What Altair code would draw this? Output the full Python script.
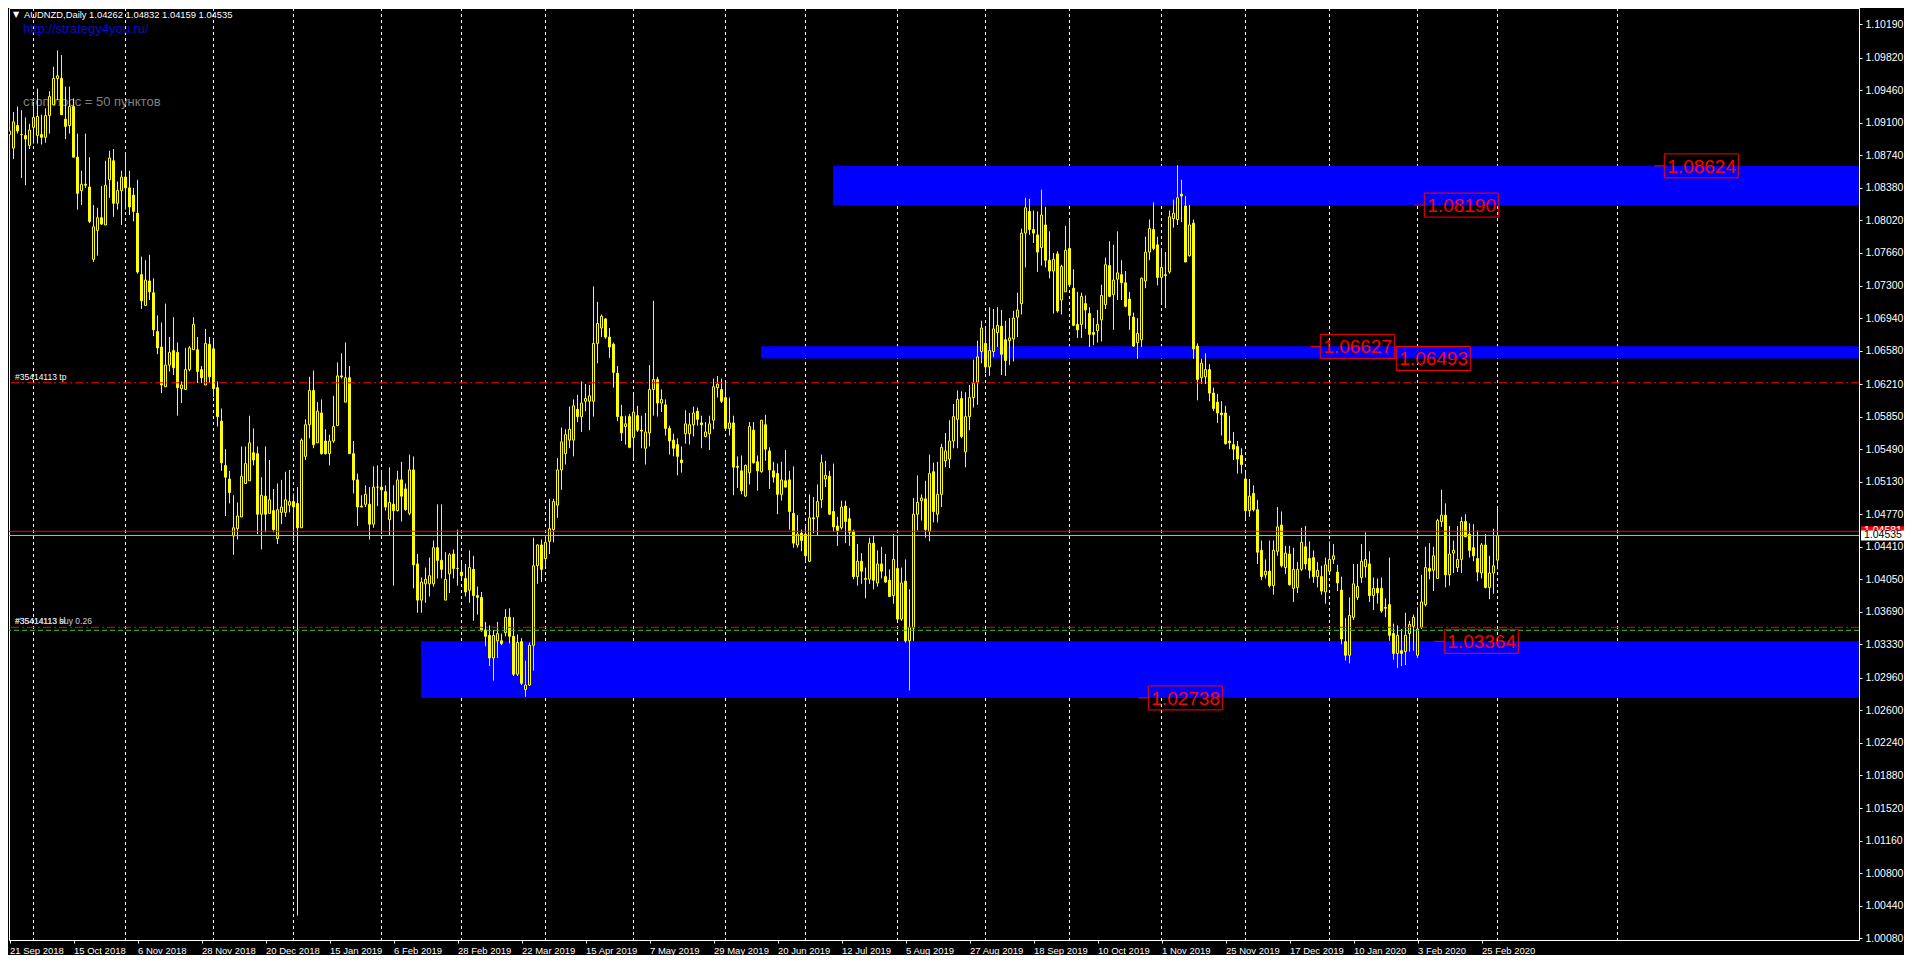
import altair as alt
import pandas as pd

# ---------------- data ----------------
header = "AUDNZD,Daily  1.04262 1.04832 1.04159 1.04535"
site = "http://strategy4you.ru/"
note = "стоп лосс = 50 пунктов"
order_id = "#35414113"

opens = [
    1.0897, 1.0882, 1.0907, 1.0897, 1.0896, 1.0885, 1.0905, 1.0896, 1.0897, 1.0894,
    1.0918, 1.0930, 1.0959, 1.0959, 1.0914, 1.0907, 1.0928, 1.0872, 1.0835, 1.0842,
    1.0839, 1.0759, 1.0791, 1.0805, 1.0797, 1.0847, 1.0868, 1.0821, 1.0835, 1.0850,
    1.0838, 1.0830, 1.0810, 1.0742, 1.0708, 1.0735, 1.0722, 1.0679, 1.0662, 1.0618,
    1.0642, 1.0658, 1.0656, 1.0616, 1.0615, 1.0637, 1.0659, 1.0659, 1.0637, 1.0620,
    1.0665, 1.0660, 1.0617, 1.0580, 1.0531, 1.0516, 1.0453, 1.0461, 1.0474, 1.0511,
    1.0514, 1.0545, 1.0544, 1.0477, 1.0497, 1.0478, 1.0481, 1.0450, 1.0479, 1.0479,
    1.0487, 1.0491, 1.0489, 1.0462, 1.0541, 1.0576, 1.0614, 1.0556, 1.0589, 1.0558,
    1.0544, 1.0558, 1.0575, 1.0630, 1.0601, 1.0628, 1.0544, 1.0515, 1.0486, 1.0488,
    1.0488, 1.0466, 1.0507, 1.0507, 1.0502, 1.0471, 1.0488, 1.0481, 1.0515, 1.0505,
    1.0478, 1.0526, 1.0422, 1.0382, 1.0400, 1.0400, 1.0400, 1.0440, 1.0426, 1.0382,
    1.0411, 1.0433, 1.0417, 1.0413, 1.0406, 1.0393, 1.0416, 1.0387, 1.0385, 1.0349,
    1.0343, 1.0318, 1.0337, 1.0337, 1.0346, 1.0363, 1.0342, 1.0300, 1.0336, 1.0283,
    1.0288, 1.0332, 1.0420, 1.0443, 1.0428, 1.0447, 1.0460, 1.0487, 1.0526, 1.0544,
    1.0559, 1.0559, 1.0593, 1.0585, 1.0602, 1.0602, 1.0602, 1.0666, 1.0683, 1.0693,
    1.0673, 1.0665, 1.0633, 1.0585, 1.0574, 1.0585, 1.0562, 1.0586, 1.0570, 1.0550,
    1.0567, 1.0615, 1.0626, 1.0600, 1.0598, 1.0572, 1.0559, 1.0554, 1.0537, 1.0566,
    1.0566, 1.0576, 1.0591, 1.0578, 1.0563, 1.0566, 1.0581, 1.0617, 1.0615, 1.0606,
    1.0572, 1.0578, 1.0530, 1.0525, 1.0497,
    1.0523, 1.0570, 1.0535, 1.0524, 1.0576,
    1.0547, 1.0525, 1.0522, 1.0499, 1.0514, 1.0515, 1.0478, 1.0443, 1.0456, 1.0455,
    1.0425, 1.0473, 1.0474, 1.0493, 1.0516, 1.0519, 1.0480, 1.0464, 1.0462, 1.0486,
    1.0472, 1.0458, 1.0408, 1.0425, 1.0406, 1.0405, 1.0445, 1.0401, 1.0422, 1.0408,
    1.0404, 1.0387, 1.0417, 1.0361, 1.0403, 1.0337, 1.0351, 1.0477, 1.0492, 1.0494,
    1.0458, 1.0524, 1.0477, 1.0499, 1.0536, 1.0538, 1.0558, 1.0582, 1.0605, 1.0546,
    1.0585, 1.0606, 1.0623, 1.0657, 1.0666, 1.0640, 1.0657, 1.0678, 1.0685, 1.0670,
    1.0669, 1.0671, 1.0695, 1.0710, 1.0788, 1.0812, 1.0792, 1.0786, 1.0772, 1.0797,
    1.0758, 1.0746, 1.0765, 1.0714, 1.0723, 1.0771, 1.0727, 1.0687, 1.0687, 1.0710,
    1.0699, 1.0678, 1.0680, 1.0692, 1.0709, 1.0752, 1.0720, 1.0737, 1.0742,
    1.0733, 1.0715, 1.0695, 1.0667, 1.0670, 1.0735, 1.0767, 1.0792, 1.0775, 1.0739, 1.0742,
    1.0745, 1.0804, 1.0803, 1.0831, 1.0818, 1.0763, 1.0799, 1.0663, 1.0628, 1.0629,
    1.0637, 1.0611, 1.0601, 1.0589, 1.0589, 1.0558, 1.0554, 1.0552, 1.0542, 1.0516,
    1.0481, 1.0500, 1.0482, 1.0437, 1.0410, 1.0414, 1.0398, 1.0436, 1.0465, 1.0418,
    1.0433, 1.0395, 1.0396, 1.0416, 1.0441, 1.0428, 1.0429, 1.0408, 1.0408, 1.0391,
    1.0414, 1.0427, 1.0413, 1.0393, 1.0336, 1.0321, 1.0363, 1.0385, 1.0407, 1.0419,
    1.0422, 1.0387, 1.0395, 1.0395, 1.0374, 1.0377, 1.0345, 1.0323, 1.0326, 1.0325,
    1.0345, 1.0353, 1.0321, 1.0352, 1.0377, 1.0417, 1.0415, 1.0406, 1.0469, 1.0476,
    1.0410, 1.0434, 1.0418, 1.0427, 1.0469, 1.0455, 1.0440, 1.0428, 1.0412, 1.0443,
    1.0396, 1.0412, 1.04262,
]

highs = [
    1.0913, 1.0922, 1.0928, 1.0924, 1.0916, 1.0909, 1.0933, 1.0948, 1.0919, 1.0926,
    1.0945, 1.0972, 1.0990, 1.0985, 1.0950, 1.0950, 1.0937, 1.0898, 1.0857, 1.0898,
    1.0872, 1.0819, 1.0816, 1.0840, 1.0868, 1.0879, 1.0881, 1.0845, 1.0857, 1.0877,
    1.0857, 1.0838, 1.0847, 1.0762, 1.0758, 1.0764, 1.0738, 1.0697, 1.0689, 1.0710,
    1.0673, 1.0695, 1.0667, 1.0624, 1.0661, 1.0663, 1.0695, 1.0673, 1.0641, 1.0682,
    1.0673, 1.0671, 1.0624, 1.0594, 1.0549, 1.0525, 1.0498, 1.0490, 1.0552, 1.0552,
    1.0586, 1.0572, 1.0552, 1.0518, 1.0552, 1.0537, 1.0505, 1.0511, 1.0515, 1.0524,
    1.0526, 1.0500, 1.0507, 1.0561, 1.0582, 1.0629, 1.0636, 1.0601, 1.0604, 1.0571,
    1.0565, 1.0608, 1.0645, 1.0655, 1.0667, 1.0641, 1.0558, 1.0522, 1.0498, 1.0509,
    1.0507, 1.0530, 1.0531, 1.0526, 1.0509, 1.0529, 1.0509, 1.0525, 1.0535, 1.0511,
    1.0543, 1.0541, 1.0433, 1.0407, 1.0418, 1.0429, 1.0448, 1.0488, 1.0488, 1.0435,
    1.0434, 1.0438, 1.0460, 1.0424, 1.0422, 1.0437, 1.0431, 1.0397, 1.0391, 1.0358,
    1.0354, 1.0349, 1.0358, 1.0345, 1.0372, 1.0373, 1.0363, 1.0344, 1.0340, 1.0315,
    1.0335, 1.0451, 1.0444, 1.0449, 1.0453, 1.0494, 1.0494, 1.0539, 1.0573, 1.0571,
    1.0596, 1.0604, 1.0609, 1.0624, 1.0621, 1.0620, 1.0729, 1.0712, 1.0698, 1.0694,
    1.0683, 1.0667, 1.0641, 1.0598, 1.0586, 1.0588, 1.0609, 1.0597, 1.0586, 1.0589,
    1.0642, 1.0713, 1.0629, 1.0615, 1.0604, 1.0575, 1.0566, 1.0561, 1.0552, 1.0592,
    1.0589, 1.0596, 1.0595, 1.0586, 1.0579, 1.0586, 1.0627, 1.0630, 1.0627, 1.0622,
    1.0606, 1.0586, 1.0541, 1.0542, 1.0532,
    1.0579, 1.0579, 1.0542, 1.0581, 1.0587,
    1.0551, 1.0535, 1.0533, 1.0535, 1.0548, 1.0525, 1.0530, 1.0476, 1.0460, 1.0466,
    1.0499, 1.0496, 1.0510, 1.0543, 1.0536, 1.0525, 1.0533, 1.0474, 1.0492, 1.0492,
    1.0484, 1.0460, 1.0444, 1.0434, 1.0418, 1.0451, 1.0453, 1.0437, 1.0441, 1.0433,
    1.0416, 1.0455, 1.0453, 1.0418, 1.0427, 1.0394, 1.0495, 1.0520, 1.0499, 1.0514,
    1.0543, 1.0534, 1.0535, 1.0555, 1.0567, 1.0581, 1.0599, 1.0614, 1.0613, 1.0612,
    1.0620, 1.0648, 1.0669, 1.0691, 1.0683, 1.0706, 1.0704, 1.0706, 1.0703, 1.0691,
    1.0694, 1.0702, 1.0722, 1.0793, 1.0827, 1.0826, 1.0813, 1.0812, 1.0836, 1.0817,
    1.0790, 1.0766, 1.0768, 1.0753, 1.0796, 1.0804, 1.0748, 1.0723, 1.0722, 1.0719,
    1.0706, 1.0694, 1.0703, 1.0731, 1.0761, 1.0779, 1.0775, 1.0790, 1.0758,
    1.0746, 1.0723, 1.0700, 1.0694, 1.0739, 1.0784, 1.0803, 1.0822, 1.0784, 1.0771, 1.0767,
    1.0813, 1.0825, 1.0863, 1.0847, 1.0829, 1.0819, 1.0803, 1.0666, 1.0649, 1.0655,
    1.0643, 1.0617, 1.0610, 1.0602, 1.0597, 1.0586, 1.0568, 1.0558, 1.0550, 1.0524,
    1.0516, 1.0509, 1.0493, 1.0448, 1.0427, 1.0448, 1.0448, 1.0485, 1.0480, 1.0442,
    1.0442, 1.0440, 1.0424, 1.0462, 1.0464, 1.0447, 1.0437, 1.0424, 1.0420, 1.0429,
    1.0447, 1.0444, 1.0421, 1.0408, 1.0362, 1.0385, 1.0422, 1.0422, 1.0444, 1.0457,
    1.0436, 1.0407, 1.0406, 1.0407, 1.0384, 1.0429, 1.0356, 1.0354, 1.0350, 1.0368,
    1.0359, 1.0366, 1.0374, 1.0410, 1.0441, 1.0445, 1.0441, 1.0472, 1.0504, 1.0489,
    1.0464, 1.0448, 1.0464, 1.0474, 1.0477, 1.0467, 1.0466, 1.0459, 1.0445, 1.0455,
    1.0431, 1.0461, 1.04832,
]

lows = [
    1.0881, 1.0870, 1.0898, 1.0849, 1.0841, 1.0881, 1.0887, 1.0887, 1.0886, 1.0888,
    1.0898, 1.0930, 1.0935, 1.0919, 1.0892, 1.0898, 1.0872, 1.0814, 1.0819, 1.0838,
    1.0799, 1.0756, 1.0763, 1.0797, 1.0797, 1.0827, 1.0806, 1.0814, 1.0797, 1.0814,
    1.0808, 1.0801, 1.0743, 1.0704, 1.0708, 1.0714, 1.0674, 1.0654, 1.0611, 1.0618,
    1.0635, 1.0631, 1.0586, 1.0600, 1.0615, 1.0635, 1.0659, 1.0622, 1.0622, 1.0620,
    1.0622, 1.0607, 1.0574, 1.0525, 1.0475, 1.0489, 1.0432, 1.0449, 1.0474, 1.0511,
    1.0514, 1.0531, 1.0455, 1.0438, 1.0457, 1.0478, 1.0457, 1.0444, 1.0466, 1.0474,
    1.0479, 1.0447, 1.0033, 1.0462, 1.0537, 1.0561, 1.0550, 1.0556, 1.0543, 1.0543,
    1.0531, 1.0556, 1.0575, 1.0627, 1.0601, 1.0544, 1.0500, 1.0464, 1.0485, 1.0485,
    1.0449, 1.0462, 1.0486, 1.0455, 1.0481, 1.0454, 1.0398, 1.0480, 1.0469, 1.0481,
    1.0476, 1.0395, 1.0368, 1.0368, 1.0379, 1.0386, 1.0397, 1.0406, 1.0406, 1.0382,
    1.0390, 1.0406, 1.0398, 1.0406, 1.0386, 1.0379, 1.0359, 1.0366, 1.0347, 1.0331,
    1.0309, 1.0293, 1.0318, 1.0332, 1.0342, 1.0334, 1.0298, 1.0298, 1.0288, 1.0275,
    1.0287, 1.0304, 1.0400, 1.0402, 1.0420, 1.0433, 1.0446, 1.0473, 1.0504, 1.0532,
    1.0550, 1.0541, 1.0579, 1.0568, 1.0591, 1.0570, 1.0585, 1.0644, 1.0673, 1.0671,
    1.0650, 1.0617, 1.0580, 1.0558, 1.0554, 1.0550, 1.0539, 1.0568, 1.0550, 1.0532,
    1.0552, 1.0586, 1.0585, 1.0590, 1.0564, 1.0543, 1.0541, 1.0520, 1.0523, 1.0555,
    1.0554, 1.0563, 1.0575, 1.0550, 1.0562, 1.0548, 1.0571, 1.0606, 1.0600, 1.0570,
    1.0564, 1.0498, 1.0506, 1.0499, 1.0496,
    1.0510, 1.0533, 1.0503, 1.0523, 1.0536,
    1.0505, 1.0512, 1.0477, 1.0492, 1.0507, 1.0460, 1.0440, 1.0440, 1.0436, 1.0424,
    1.0424, 1.0456, 1.0453, 1.0484, 1.0507, 1.0476, 1.0458, 1.0442, 1.0460, 1.0445,
    1.0442, 1.0405, 1.0398, 1.0400, 1.0384, 1.0400, 1.0394, 1.0397, 1.0406, 1.0401,
    1.0386, 1.0378, 1.0359, 1.0359, 1.0335, 1.0282, 1.0337, 1.0459, 1.0470, 1.0451,
    1.0447, 1.0468, 1.0468, 1.0485, 1.0529, 1.0528, 1.0550, 1.0550, 1.0561, 1.0529,
    1.0570, 1.0595, 1.0598, 1.0644, 1.0633, 1.0630, 1.0651, 1.0662, 1.0631, 1.0630,
    1.0642, 1.0646, 1.0673, 1.0698, 1.0750, 1.0786, 1.0777, 1.0745, 1.0752, 1.0750,
    1.0738, 1.0699, 1.0700, 1.0698, 1.0723, 1.0731, 1.0685, 1.0672, 1.0672, 1.0682,
    1.0662, 1.0664, 1.0667, 1.0668, 1.0704, 1.0717, 1.0681, 1.0714, 1.0714,
    1.0706, 1.0681, 1.0662, 1.0649, 1.0662, 1.0727, 1.0758, 1.0769, 1.0730, 1.0711, 1.0705,
    1.0743, 1.0794, 1.0797, 1.0800, 1.0756, 1.0762, 1.0649, 1.0603, 1.0621, 1.0621,
    1.0602, 1.0591, 1.0578, 1.0564, 1.0554, 1.0549, 1.0537, 1.0522, 1.0522, 1.0470,
    1.0474, 1.0480, 1.0422, 1.0404, 1.0406, 1.0396, 1.0388, 1.0431, 1.0418, 1.0411,
    1.0398, 1.0380, 1.0390, 1.0414, 1.0416, 1.0406, 1.0401, 1.0396, 1.0388, 1.0378,
    1.0412, 1.0422, 1.0392, 1.0333, 1.0315, 1.0312, 1.0360, 1.0382, 1.0401, 1.0407,
    1.0380, 1.0371, 1.0378, 1.0368, 1.0363, 1.0337, 1.0316, 1.0307, 1.0309, 1.0310,
    1.0325, 1.0326, 1.0318, 1.0350, 1.0375, 1.0405, 1.0392, 1.0406, 1.0463, 1.0396,
    1.0398, 1.0412, 1.0413, 1.0412, 1.0452, 1.0429, 1.0425, 1.0403, 1.0406, 1.0395,
    1.0383, 1.0389, 1.04159,
]

closes = [
    1.0901, 1.0911, 1.0901, 1.0897, 1.0892, 1.0902, 1.0916, 1.0917, 1.0894, 1.0918,
    1.0939, 1.0959, 1.0962, 1.0919, 1.0906, 1.0928, 1.0872, 1.0832, 1.0842, 1.0841,
    1.0801, 1.0795, 1.0805, 1.0798, 1.0841, 1.0871, 1.0821, 1.0835, 1.0850, 1.0838,
    1.0817, 1.0812, 1.0745, 1.0713, 1.0736, 1.0723, 1.0681, 1.0661, 1.0620, 1.0642,
    1.0656, 1.0639, 1.0617, 1.0620, 1.0637, 1.0661, 1.0687, 1.0635, 1.0628, 1.0666,
    1.0629, 1.0616, 1.0585, 1.0534, 1.0518, 1.0501, 1.0462, 1.0475, 1.0519, 1.0533,
    1.0556, 1.0537, 1.0477, 1.0498, 1.0477, 1.0493, 1.0460, 1.0482, 1.0485, 1.0493,
    1.0491, 1.0485, 1.0462, 1.0559, 1.0576, 1.0614, 1.0554, 1.0591, 1.0544, 1.0544,
    1.0558, 1.0574, 1.0630, 1.0629, 1.0628, 1.0544, 1.0515, 1.0485, 1.0485, 1.0499,
    1.0466, 1.0507, 1.0507, 1.0504, 1.0485, 1.0490, 1.0481, 1.0515, 1.0497, 1.0482,
    1.0526, 1.0421, 1.0382, 1.0402, 1.0405, 1.0409, 1.0440, 1.0426, 1.0416, 1.0405,
    1.0432, 1.0417, 1.0417, 1.0409, 1.0391, 1.0418, 1.0387, 1.0385, 1.0349, 1.0342,
    1.0318, 1.0343, 1.0345, 1.0334, 1.0363, 1.0342, 1.0300, 1.0335, 1.0290, 1.0288,
    1.0332, 1.0420, 1.0443, 1.0416, 1.0446, 1.0461, 1.0491, 1.0526, 1.0557, 1.0565,
    1.0571, 1.0597, 1.0585, 1.0600, 1.0605, 1.0608, 1.0666, 1.0688, 1.0696, 1.0673,
    1.0662, 1.0634, 1.0585, 1.0567, 1.0577, 1.0551, 1.0590, 1.0570, 1.0569, 1.0568,
    1.0615, 1.0626, 1.0600, 1.0604, 1.0572, 1.0558, 1.0550, 1.0541, 1.0534, 1.0577,
    1.0576, 1.0589, 1.0582, 1.0576, 1.0568, 1.0577, 1.0618, 1.0621, 1.0602, 1.0572,
    1.0578, 1.0529, 1.0529, 1.0503, 1.0531,
    1.0574, 1.0534, 1.0525, 1.0581, 1.0549,
    1.0526, 1.0518, 1.0499, 1.0515, 1.0507, 1.0480, 1.0445, 1.0455, 1.0448, 1.0431,
    1.0473, 1.0472, 1.0491, 1.0534, 1.0520, 1.0477, 1.0463, 1.0459, 1.0485, 1.0469,
    1.0457, 1.0408, 1.0425, 1.0414, 1.0405, 1.0445, 1.0404, 1.0422, 1.0414, 1.0402,
    1.0386, 1.0427, 1.0361, 1.0401, 1.0337, 1.0352, 1.0477, 1.0490, 1.0495, 1.0460,
    1.0522, 1.0480, 1.0499, 1.0551, 1.0547, 1.0558, 1.0585, 1.0604, 1.0563, 1.0585,
    1.0606, 1.0622, 1.0651, 1.0683, 1.0640, 1.0658, 1.0682, 1.0686, 1.0654, 1.0647,
    1.0672, 1.0694, 1.0703, 1.0788, 1.0816, 1.0792, 1.0788, 1.0767, 1.0808, 1.0758,
    1.0746, 1.0759, 1.0702, 1.0751, 1.0769, 1.0731, 1.0686, 1.0681, 1.0718, 1.0703,
    1.0676, 1.0676, 1.0687, 1.0719, 1.0753, 1.0718, 1.0736, 1.0744, 1.0733,
    1.0707, 1.0697, 1.0663, 1.0677, 1.0738, 1.0767, 1.0793, 1.0771, 1.0739, 1.0750, 1.0741,
    1.0806, 1.0810, 1.0827, 1.0829, 1.0756, 1.0797, 1.0660, 1.0626, 1.0644, 1.0637,
    1.0611, 1.0594, 1.0589, 1.0587, 1.0555, 1.0556, 1.0549, 1.0538, 1.0532, 1.0481,
    1.0497, 1.0482, 1.0435, 1.0408, 1.0414, 1.0398, 1.0437, 1.0463, 1.0420, 1.0434,
    1.0399, 1.0416, 1.0416, 1.0446, 1.0422, 1.0415, 1.0408, 1.0415, 1.0392, 1.0421,
    1.0427, 1.0431, 1.0401, 1.0339, 1.0321, 1.0365, 1.0400, 1.0397, 1.0425, 1.0427,
    1.0387, 1.0395, 1.0390, 1.0370, 1.0373, 1.0343, 1.0323, 1.0343, 1.0323, 1.0343,
    1.0355, 1.0363, 1.0350, 1.0380, 1.0418, 1.0414, 1.0431, 1.0470, 1.0476, 1.0410,
    1.0433, 1.0437, 1.0427, 1.0469, 1.0452, 1.0437, 1.0431, 1.0413, 1.0443, 1.0396,
    1.0412, 1.0420, 1.04535,
]

date_labels = ["21 Sep 2018", "15 Oct 2018", "6 Nov 2018", "28 Nov 2018", "20 Dec 2018",
               "15 Jan 2019", "6 Feb 2019", "28 Feb 2019", "22 Mar 2019", "15 Apr 2019",
               "7 May 2019", "29 May 2019", "20 Jun 2019", "12 Jul 2019", "5 Aug 2019",
               "27 Aug 2019", "18 Sep 2019", "10 Oct 2019", "1 Nov 2019", "25 Nov 2019",
               "17 Dec 2019", "10 Jan 2020", "3 Feb 2020", "25 Feb 2020"]
label_every = 16                      # bars between time labels
month_bars = [6, 29, 51, 71, 93, 113, 134, 156, 179, 199, 222, 244, 265, 288, 309,
              330, 352, 372, 402]      # bar index of each vertical grid line

price_ticks = [1.10190, 1.09820, 1.09460, 1.09100, 1.08740, 1.08380, 1.08020, 1.07660,
               1.07300, 1.06940, 1.06580, 1.06210, 1.05850, 1.05490, 1.05130, 1.04770,
               1.04410, 1.04050, 1.03690, 1.03330, 1.02960, 1.02600, 1.02240, 1.01880,
               1.01520, 1.01160, 1.00800, 1.00440, 1.00080]

zone_top = [1.08624, 1.06627, 1.03364]
zone_bottom = [1.08190, 1.06493, 1.02738]
zone_start_bar = [205.9, 187.9, 102.9]
zone_end_bar = [None, None, 463.9]     # None: runs past the right edge

level_prices = [1.08624, 1.08190, 1.06627, 1.06493, 1.03364, 1.02738]
level_bars = [411.2, 351.2, 325.2, 344.2, 356.2, 282.2]

tp_price = 1.06224
sl_price = 1.03519
open_price = 1.03486
ask_price = 1.04581
bid_price = 1.04535

# ---------------- chart ----------------
XMIN, XMAX = -0.125, 462.375
YMIN, YMAX = 1.0006, 1.1037
YELLOW = "#FFFF00"
RED = "#FF0000"
WHITE = "#FFFFFF"

df = pd.DataFrame({"i": list(range(len(closes))), "o": opens, "h": highs,
                   "l": lows, "c": closes})
df["x0"] = df["i"] - 0.25
df["x1"] = df["i"] + 0.25

xs = alt.Scale(domain=[XMIN, XMAX], nice=False, zero=False)
ys = alt.Scale(domain=[YMIN, YMAX], nice=False, zero=False)

label_js = "[" + ",".join("'%s'" % s for s in date_labels) + "]"
x_axis = alt.Axis(values=[k * label_every for k in range(len(date_labels))],
                  labelExpr=label_js + "[round(datum.value/%d)]" % label_every,
                  orient="bottom", grid=False, domain=False, ticks=True, tickSize=3,
                  tickColor=WHITE, labelColor=WHITE, labelFontSize=9.5,
                  labelFont="Liberation Sans", labelAlign="left", labelPadding=2,
                  labelOverlap=False, labelBound=False, labelFlush=False, title=None)
y_axis = alt.Axis(values=price_ticks, format=".5f", orient="right", grid=False,
                  domain=True, domainColor=WHITE, ticks=True, tickSize=3,
                  tickColor=WHITE, labelColor=WHITE, labelFontSize=10.5,
                  labelFont="Liberation Sans", labelPadding=3, labelOverlap=False,
                  labelBound=False, labelFlush=False, title=None)


def X(f):
    return alt.X(f, scale=xs, axis=x_axis, title=None)


def Y(f):
    return alt.Y(f, scale=ys, axis=y_axis, title=None)


grid = alt.Chart(pd.DataFrame({"m": month_bars})).mark_rule(
    color=WHITE, strokeDash=[3, 3], strokeWidth=1, clip=True).encode(x=X("m:Q"))

zdf = pd.DataFrame({"x0": zone_start_bar,
                    "x1": [XMAX if e is None else e for e in zone_end_bar],
                    "top": zone_top, "bot": zone_bottom})
zones = alt.Chart(zdf).mark_rect(color="#0000FF", clip=True).encode(
    x=X("x0:Q"), x2="x1:Q", y=Y("top:Q"), y2="bot:Q")

note_txt = alt.Chart(pd.DataFrame({"t": [note]})).mark_text(
    align="left", baseline="middle", color="#808080", fontSize=13,
    font="Liberation Sans").encode(x=alt.value(14), y=alt.value(94), text="t:N")

wicks = alt.Chart(df).mark_rule(color=YELLOW, strokeWidth=1, clip=True).encode(
    x=X("i:Q"), y=Y("l:Q"), y2="h:Q")
bodies = alt.Chart(df).mark_rect(stroke=YELLOW, strokeWidth=1, clip=True).encode(
    x=X("x0:Q"), x2="x1:Q", y=Y("o:Q"), y2="c:Q",
    fill=alt.condition("datum.c < datum.o", alt.value(YELLOW), alt.value("#000000")))

red_dd = alt.Chart(pd.DataFrame({"p": [tp_price, sl_price]})).mark_rule(
    color=RED, strokeDash=[8, 3, 2, 3], strokeWidth=1).encode(y=Y("p:Q"))
green_d = alt.Chart(pd.DataFrame({"p": [open_price]})).mark_rule(
    color="#32CD32", strokeDash=[5, 3], strokeWidth=1).encode(y=Y("p:Q"))
ask_line = alt.Chart(pd.DataFrame({"p": [ask_price]})).mark_rule(
    color=RED, strokeWidth=1).encode(y=Y("p:Q"))
bid_line = alt.Chart(pd.DataFrame({"p": [bid_price]})).mark_rule(
    color="#B4B4B4", strokeWidth=1).encode(y=Y("p:Q"))

odf = pd.DataFrame({"p": [tp_price, sl_price, sl_price],
                    "t": [order_id + " tp", order_id + " sl", order_id + " buy 0.26"],
                    "col": [WHITE, WHITE, "#C8D2E6"]})
order_txt = alt.Chart(odf).mark_text(
    align="left", baseline="bottom", dy=-1, fontSize=8.5,
    font="Liberation Sans").encode(x=alt.value(6), y=Y("p:Q"), text="t:N",
                                   color=alt.Color("col:N", scale=None))

ldf = pd.DataFrame({"b": level_bars, "p": level_prices,
                    "lab": ["%.5f" % v for v in level_prices]})
lvl_tick = alt.Chart(ldf).mark_rule(color=RED, strokeWidth=1, x2Offset=10).encode(
    x=X("b:Q"), x2="b:Q", y=Y("p:Q"))
lvl_box = alt.Chart(ldf).mark_rect(
    filled=False, stroke=RED, strokeWidth=1, xOffset=10, x2Offset=84,
    yOffset=-12, y2Offset=12).encode(x=X("b:Q"), x2="b:Q", y=Y("p:Q"), y2="p:Q")
lvl_txt = alt.Chart(ldf).mark_text(
    align="left", baseline="middle", dx=13, dy=1, fontSize=19, color=RED,
    font="Liberation Sans").encode(x=X("b:Q"), y=Y("p:Q"), text="lab:N")

adf = pd.DataFrame({"x": [XMAX], "p": [ask_price], "lab": ["%.5f" % ask_price]})
bdf = pd.DataFrame({"x": [XMAX], "p": [bid_price], "lab": ["%.5f" % bid_price]})
ask_box = alt.Chart(adf).mark_rect(color=RED, xOffset=2, x2Offset=45, yOffset=-5,
                                   y2Offset=5).encode(x=X("x:Q"), x2="x:Q",
                                                      y=Y("p:Q"), y2="p:Q")
ask_txt = alt.Chart(adf).mark_text(align="left", baseline="middle", dx=5,
                                   fontSize=10.5, color=WHITE,
                                   font="Liberation Sans").encode(
    x=X("x:Q"), y=Y("p:Q"), text="lab:N")
bid_box = alt.Chart(bdf).mark_rect(color=WHITE, xOffset=2, x2Offset=45, yOffset=-5,
                                   y2Offset=5).encode(x=X("x:Q"), x2="x:Q",
                                                      y=Y("p:Q"), y2="p:Q")
bid_txt = alt.Chart(bdf).mark_text(align="left", baseline="middle", dx=5,
                                   fontSize=10.5, color="#000000",
                                   font="Liberation Sans").encode(
    x=X("x:Q"), y=Y("p:Q"), text="lab:N")

arrow = alt.Chart(pd.DataFrame({"t": ["▼"]})).mark_text(
    align="left", baseline="middle", fontSize=8, color=WHITE,
    font="DejaVu Sans").encode(x=alt.value(4), y=alt.value(7), text="t:N")
head = alt.Chart(pd.DataFrame({"t": [header]})).mark_text(
    align="left", baseline="middle", fontSize=9.4, color=WHITE,
    font="Liberation Sans").encode(x=alt.value(15), y=alt.value(7), text="t:N")
url = alt.Chart(pd.DataFrame({"t": [site]})).mark_text(
    align="left", baseline="middle", fontSize=13, color="#0A0AD2",
    font="Liberation Sans").encode(x=alt.value(14), y=alt.value(21), text="t:N")

chart = alt.layer(
    grid, zones, note_txt, wicks, bodies, red_dd, green_d, ask_line, bid_line,
    order_txt, lvl_tick, lvl_box, lvl_txt, ask_box, ask_txt, bid_box, bid_txt,
    arrow, head, url,
).properties(
    width=1850, height=932, background="black", padding=0,
).configure_view(stroke=WHITE, strokeWidth=1)

chart.save("out.html", embed_options={"renderer": "svg", "actions": False})
